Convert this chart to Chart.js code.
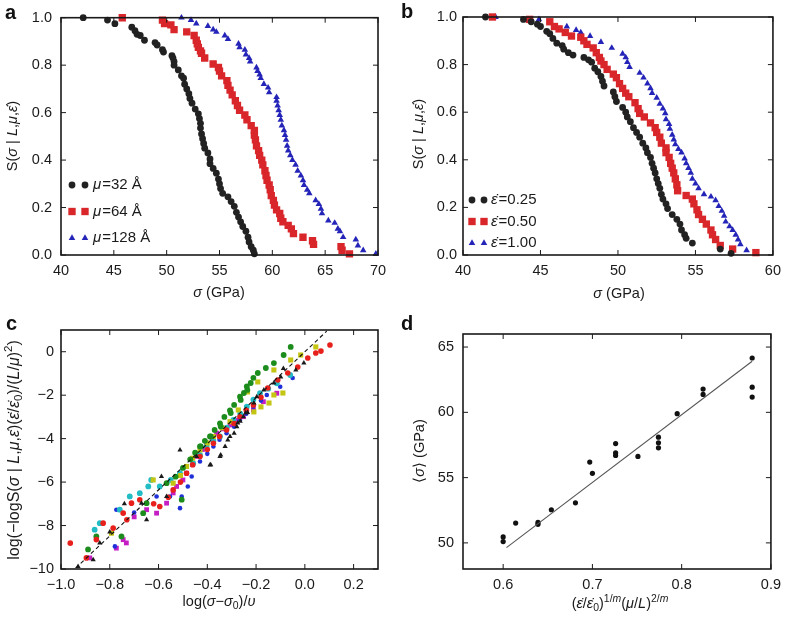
<!DOCTYPE html>
<html>
<head>
<meta charset="utf-8">
<script src="https://cdn.jsdelivr.net/npm/chart.js@4.4.1/dist/chart.umd.min.js"></script>
<style>
  body { margin: 0; background: #fff; }
  #fig { position: relative; width: 788px; height: 618px; }
  .p { position: absolute; }
  .lab { position: absolute; font: bold 20px "Liberation Sans", Arial, sans-serif; color: #111; line-height: 1; }
</style>
</head>
<body>
<div id="fig">
  <canvas class="p" id="ca" width="394" height="310" style="left:0;top:0"></canvas>
  <canvas class="p" id="cb" width="394" height="310" style="left:394px;top:0"></canvas>
  <canvas class="p" id="cc" width="394" height="308" style="left:0;top:310px"></canvas>
  <canvas class="p" id="cd" width="394" height="308" style="left:394px;top:310px"></canvas>
  <div class="lab" style="left:5px;top:2px">a</div>
  <div class="lab" style="left:401px;top:1px">b</div>
  <div class="lab" style="left:6px;top:313px">c</div>
  <div class="lab" style="left:401px;top:313px">d</div>
</div>
<script>
// ---- panel a: survival S vs sigma (GPa), three mu values
const aBlackX = [42.1,44.4,45.1,46.7,47.0,47.2,47.5,47.9,48.9,49.1,49.6,49.7,50.5,50.6,50.7,50.7,51.1,51.4,51.6,51.7,51.9,52.1,52.2,52.4,52.7,53.0,53.1,53.2,53.2,53.3,53.4,53.5,53.6,53.9,54.1,54.1,54.4,54.7,54.9,55.0,55.1,55.3,55.8,56.1,56.4,56.6,56.8,57.0,57.2,57.5,57.7,57.8,58.0,58.2,58.3];
const aBlackY = [1.0,0.99,0.975,0.96,0.945,0.93,0.925,0.905,0.895,0.885,0.865,0.855,0.84,0.83,0.815,0.80,0.78,0.755,0.745,0.72,0.70,0.68,0.66,0.64,0.615,0.595,0.575,0.555,0.535,0.51,0.49,0.47,0.45,0.43,0.405,0.385,0.365,0.345,0.32,0.30,0.28,0.26,0.245,0.225,0.205,0.18,0.16,0.14,0.12,0.10,0.075,0.055,0.035,0.02,0.005];
const aRedX = [45.8,49.6,49.8,50.4,50.7,51.9,52.6,52.8,52.9,53.0,53.2,53.3,53.6,54.4,54.9,55.0,55.2,55.7,55.8,56.0,56.2,56.5,56.7,56.9,57.4,57.6,58.0,58.3,58.3,58.4,58.5,58.7,58.8,59.0,59.1,59.3,59.4,59.5,59.7,59.8,59.9,60.1,60.2,60.4,60.7,60.8,61.0,61.5,61.8,62.0,62.9,63.8,63.9,66.5,66.6,67.3];
const aRedY = [1.0,0.99,0.975,0.97,0.95,0.94,0.925,0.905,0.89,0.875,0.86,0.85,0.83,0.805,0.79,0.775,0.755,0.735,0.715,0.695,0.675,0.65,0.63,0.61,0.59,0.57,0.545,0.525,0.505,0.485,0.46,0.44,0.42,0.40,0.38,0.355,0.335,0.315,0.295,0.275,0.25,0.23,0.21,0.19,0.175,0.155,0.14,0.125,0.11,0.09,0.075,0.06,0.045,0.035,0.02,0.005];
const aBlueX = [51.4,52.3,52.8,53.9,54.4,54.7,55.5,55.8,56.8,56.9,57.4,57.5,57.8,57.9,58.5,58.6,58.8,58.9,59.2,59.6,59.7,60.4,60.4,60.5,60.6,60.7,60.8,60.9,61.1,61.2,61.3,61.4,61.5,61.7,61.9,62.2,62.4,62.7,62.9,63.0,63.3,63.5,64.1,64.4,64.6,64.7,65.3,65.9,66.2,66.4,66.7,67.9,68.1,68.6,69.8];
const aBlueY = [1.0,0.99,0.975,0.965,0.95,0.94,0.925,0.91,0.89,0.875,0.865,0.845,0.83,0.815,0.79,0.775,0.76,0.745,0.72,0.705,0.685,0.665,0.65,0.63,0.61,0.59,0.57,0.545,0.525,0.505,0.485,0.46,0.44,0.42,0.40,0.38,0.355,0.335,0.315,0.295,0.275,0.26,0.23,0.215,0.195,0.175,0.145,0.135,0.11,0.10,0.075,0.065,0.04,0.02,0.005];
const aLabels = ['=32 Å', '=64 Å', '=128 Å'];

// ---- panel b: survival S vs sigma, three strain rates
const bBlackX = [41.45,43.9,44.4,44.8,45.0,45.4,45.6,45.8,46.05,46.4,46.5,46.8,47.1,47.8,48.1,48.3,48.5,48.7,48.9,49.0,49.1,49.7,49.8,49.9,50.3,50.5,50.6,50.8,51.0,51.2,51.4,51.6,51.8,51.9,52.1,52.2,52.3,52.4,52.5,52.6,52.7,52.8,52.9,53.1,53.2,53.5,53.8,54.0,54.1,54.3,54.4,54.8,56.6,57.3];
const bBlackY = [1.0,0.99,0.98,0.97,0.96,0.94,0.93,0.91,0.89,0.88,0.865,0.85,0.84,0.83,0.82,0.81,0.785,0.77,0.75,0.73,0.71,0.685,0.665,0.645,0.62,0.60,0.58,0.56,0.535,0.515,0.495,0.47,0.45,0.43,0.41,0.385,0.365,0.345,0.32,0.30,0.28,0.255,0.235,0.215,0.195,0.17,0.15,0.13,0.105,0.085,0.07,0.05,0.025,0.007];
const bRedX = [41.9,44.3,45.6,45.9,46.2,46.6,47.0,47.6,47.8,48.0,48.4,48.6,48.8,48.9,49.1,49.3,49.7,49.9,50.1,50.3,50.5,50.7,51.1,51.3,51.4,51.7,52.1,52.4,52.5,52.7,52.8,53.1,53.1,53.3,53.4,53.5,53.6,53.7,53.8,53.85,54.4,54.8,54.9,55.1,55.2,55.45,55.7,56.0,56.1,56.3,56.6,57.4,58.9];
const bRedY = [1.0,0.99,0.98,0.96,0.95,0.935,0.92,0.915,0.90,0.885,0.87,0.85,0.83,0.815,0.80,0.78,0.76,0.745,0.72,0.70,0.68,0.665,0.64,0.615,0.595,0.58,0.555,0.535,0.515,0.495,0.47,0.45,0.43,0.41,0.385,0.365,0.345,0.32,0.295,0.27,0.25,0.235,0.215,0.19,0.17,0.15,0.13,0.105,0.085,0.065,0.04,0.025,0.01];
const bBlueX = [42.1,44.9,46.7,47.3,47.6,48.2,48.9,49.6,50.3,50.5,50.6,50.75,51.4,51.65,51.9,52.1,52.2,52.5,52.7,52.9,53.05,53.1,53.3,53.35,53.5,53.6,53.7,53.9,54.1,54.3,54.4,54.55,54.7,54.8,55.0,55.2,55.55,56.0,56.3,56.5,56.7,56.85,56.95,57.2,57.4,57.6,57.75,57.9,58.3];
const bBlueY = [1.0,0.99,0.96,0.945,0.935,0.92,0.895,0.87,0.845,0.83,0.81,0.79,0.765,0.745,0.72,0.70,0.68,0.66,0.635,0.615,0.595,0.57,0.55,0.53,0.505,0.485,0.465,0.445,0.43,0.405,0.385,0.365,0.345,0.32,0.30,0.28,0.255,0.245,0.23,0.205,0.185,0.165,0.14,0.12,0.105,0.085,0.065,0.045,0.02];
const bLabels = ['=0.25', '=0.50', '=1.00'];

// ---- panel c: collapsed data, one series per run
const cBlackX = [-0.93,-0.868,-0.841,-0.80,-0.74,-0.67,-0.649,-0.588,-0.567,-0.512,-0.444,-0.389,-0.386,-0.348,-0.345,-0.327,-0.316,-0.307,-0.29,-0.279,-0.275,-0.265,-0.252,-0.243,-0.235,-0.209,-0.197,-0.168,-0.127,-0.099,-0.088,-0.037,-0.004];
const cBlackY = [-9.88,-9.57,-8.8,-8.3,-7.0,-6.97,-7.73,-5.74,-6.66,-4.52,-4.82,-5.21,-5.2,-4.82,-4.75,-4.36,-4.06,-3.9,-3.75,-3.45,-3.28,-3.2,-2.99,-2.82,-2.8,-2.36,-2.07,-1.76,-1.44,-1.16,-0.77,-0.84,-0.52];
const cRedX = [-0.962,-0.896,-0.855,-0.827,-0.786,-0.745,-0.73,-0.711,-0.677,-0.62,-0.595,-0.56,-0.54,-0.51,-0.485,-0.46,-0.43,-0.40,-0.375,-0.35,-0.321,-0.29,-0.266,-0.24,-0.211,-0.18,-0.152,-0.111,-0.07,-0.029,0.012,0.045,0.066,0.103];
const cRedY = [-8.81,-9.49,-8.65,-7.89,-8.12,-7.43,-7.73,-6.97,-6.81,-7.0,-7.12,-6.7,-6.36,-6.0,-5.59,-5.2,-4.82,-4.5,-4.21,-3.9,-3.6,-3.3,-2.99,-2.7,-2.45,-2.1,-1.67,-1.3,-0.98,-0.7,-0.29,-0.06,0.03,0.31];
const cGreenX = [-0.889,-0.855,-0.752,-0.663,-0.649,-0.567,-0.505,-0.53,-0.50,-0.47,-0.45,-0.43,-0.427,-0.41,-0.389,-0.386,-0.37,-0.348,-0.345,-0.33,-0.307,-0.304,-0.29,-0.266,-0.263,-0.25,-0.238,-0.236,-0.222,-0.211,-0.193,-0.16,-0.127,-0.087,-0.058];
const cGreenY = [-9.1,-8.5,-8.5,-7.43,-6.97,-6.05,-6.81,-5.75,-5.35,-4.95,-4.65,-4.36,-4.36,-4.1,-3.9,-3.9,-3.6,-3.3,-3.44,-3.0,-2.7,-2.82,-2.45,-2.07,-2.22,-1.9,-1.6,-1.76,-1.44,-1.2,-0.98,-0.75,-0.52,-0.15,0.22];
const cYellowX = [-0.793,-0.622,-0.54,-0.51,-0.485,-0.46,-0.43,-0.40,-0.375,-0.34,-0.307,-0.273,-0.235,-0.209,-0.193,-0.18,-0.147,-0.127,-0.09,-0.127,-0.058,-0.017,0.045];
const cYellowY = [-8.35,-5.9,-6.05,-5.7,-5.28,-4.9,-4.52,-4.2,-3.9,-3.5,-3.22,-2.68,-1.85,-2.77,-1.39,-2.54,-2.36,-0.84,-1.9,-1.99,-0.38,-0.15,0.22];
const cCyanX = [-0.862,-0.841,-0.759,-0.718,-0.677,-0.642,-0.63,-0.595,-0.55,-0.512,-0.458,-0.43,-0.403,-0.375,-0.348,-0.32,-0.293,-0.265,-0.238,-0.211,-0.184,-0.15,-0.115,-0.06];
const cCyanY = [-8.19,-7.89,-7.27,-6.66,-6.51,-6.2,-5.9,-6.2,-5.9,-5.59,-5.13,-4.75,-4.36,-4.1,-3.9,-3.5,-3.14,-2.85,-2.53,-2.2,-1.91,-1.7,-1.45,-1.07];
const cBlueX = [-0.779,-0.773,-0.70,-0.608,-0.553,-0.512,-0.505,-0.48,-0.464,-0.43,-0.40,-0.375,-0.35,-0.321,-0.29,-0.266,-0.24,-0.211,-0.18,-0.156,-0.101,-0.05];
const cBlueY = [-8.96,-7.27,-7.4,-6.66,-6.66,-7.2,-6.66,-6.2,-5.74,-5.05,-4.7,-4.36,-4.05,-3.75,-3.45,-3.14,-2.85,-2.53,-2.25,-1.99,-1.61,-1.21];
const cMagentaX = [-0.882,-0.773,-0.745,-0.732,-0.70,-0.649,-0.608,-0.567,-0.54,-0.526,-0.50,-0.485,-0.46,-0.444,-0.42,-0.403,-0.38,-0.362,-0.335,-0.307,-0.28,-0.252,-0.211,-0.17,-0.115];
const cMagentaY = [-9.49,-9.04,-8.65,-8.8,-7.6,-7.27,-7.43,-6.97,-6.5,-6.2,-5.9,-5.59,-5.2,-4.82,-4.5,-4.21,-4.0,-3.75,-3.55,-3.37,-3.15,-2.99,-2.68,-2.3,-1.91];
const cFitX = [-0.94, 0.09];
const cFitY = [-9.96, 0.95];

// ---- panel d: mean strength vs scaling variable
const dX = [0.6,0.6,0.614,0.639,0.639,0.654,0.681,0.697,0.700,0.726,0.726,0.726,0.751,0.774,0.774,0.774,0.795,0.824,0.824,0.879,0.879,0.879];
const dY = [50.46,50.1,51.52,51.57,51.42,52.54,53.07,56.19,55.33,56.90,57.61,56.70,56.62,58.10,57.67,57.28,59.90,61.78,61.37,64.16,61.93,61.17];
const dFitX = [0.6037, 0.879];
const dFitY = [49.64, 63.91];

const FONT = '"Liberation Sans", Arial, sans-serif';
const TICK = 14.5;
Chart.defaults.font.family = FONT;
Chart.defaults.color = '#1a1a1a';

const pts = (xs, ys) => xs.map((x, i) => ({x, y: ys[i]}));
const fmt = (v, d) => (Math.abs(v) < 1e-9 ? 0 : v).toFixed(d).replace('-', '\u2212');

function marks(label, xs, ys, color, style, r) {
  return { label, data: pts(xs, ys), backgroundColor: color, borderColor: color, borderWidth: 0,
           pointStyle: style, pointRadius: r, clip: 6 };
}
function fitLine(xs, ys, color, dash) {
  return { data: pts(xs, ys), showLine: true, borderColor: color, borderWidth: 1.1,
           borderDash: dash || [], pointRadius: 0, order: -1 };
}

function drawMark(ctx, style, x, y, r, color) {
  ctx.fillStyle = color;
  ctx.beginPath();
  if (style === 'rect') {
    const s = r * Math.SQRT1_2;
    ctx.rect(x - s, y - s, 2 * s, 2 * s);
  } else if (style === 'triangle') {
    ctx.moveTo(x, y - r);
    ctx.lineTo(x - r * 0.866, y + r / 2);
    ctx.lineTo(x + r * 0.866, y + r / 2);
    ctx.closePath();
  } else {
    ctx.arc(x, y, r, 0, Math.PI * 2);
  }
  ctx.fill();
}

// text with italic / super / subscript pieces
function drawRich(ctx, segs, cx, cy, rot, size) {
  ctx.save();
  ctx.translate(cx, cy);
  ctx.rotate(rot);
  ctx.fillStyle = '#1a1a1a';
  ctx.textBaseline = 'alphabetic';
  const fontOf = s => (s[1] && s[1].includes('i') ? 'italic ' : '') +
    (s[1] && /[\^_]/.test(s[1]) ? size * 0.72 : size) + 'px ' + FONT;
  let w = 0;
  const ws = segs.map(s => { ctx.font = fontOf(s); const m = ctx.measureText(s[0]).width; w += m; return m; });
  let x = -w / 2;
  segs.forEach((s, i) => {
    ctx.font = fontOf(s);
    const f = s[1] || '';
    const dy = f.includes('^') ? -size * 0.42 : f.includes('_') ? size * 0.22 : 0;
    ctx.fillText(s[0], x, size * 0.36 + dy);
    x += ws[i];
  });
  ctx.restore();
}

const frameTicks = {
  id: 'frameTicks',
  afterDraw(chart) {
    const {ctx, chartArea: a, scales} = chart;
    const len = 5;
    ctx.save();
    ctx.strokeStyle = '#1a1a1a';
    ctx.lineWidth = 1;
    ctx.beginPath();
    scales.x.ticks.forEach(t => {
      const px = scales.x.getPixelForValue(t.value);
      ctx.moveTo(px, a.bottom); ctx.lineTo(px, a.bottom - len);
      ctx.moveTo(px, a.top); ctx.lineTo(px, a.top + len);
    });
    scales.y.ticks.forEach(t => {
      const py = scales.y.getPixelForValue(t.value);
      ctx.moveTo(a.left, py); ctx.lineTo(a.left + len, py);
      ctx.moveTo(a.right, py); ctx.lineTo(a.right - len, py);
    });
    ctx.stroke();
    ctx.lineWidth = 1.6;
    ctx.strokeRect(a.left, a.top, a.right - a.left, a.bottom - a.top);
    ctx.restore();
  }
};

const insetLegend = {
  id: 'insetLegend',
  afterDraw(chart, args, o) {
    if (!o || !o.items) return;
    const ctx = chart.ctx;
    o.items.forEach((it, i) => {
      const ds = chart.data.datasets[i];
      const y = o.y + i * o.gap;
      drawMark(ctx, ds.pointStyle, o.x, y, ds.pointRadius, ds.backgroundColor);
      drawMark(ctx, ds.pointStyle, o.x + o.dx, y, ds.pointRadius, ds.backgroundColor);
      ctx.fillStyle = '#1a1a1a';
      ctx.textBaseline = 'middle';
      ctx.font = 'italic 15px ' + FONT;
      ctx.fillText(o.sym, o.tx, y);
      const w = ctx.measureText(o.sym).width;
      ctx.font = '15px ' + FONT;
      ctx.fillText(it, o.tx + w + 1, y);
    });
  }
};

const richTitles = {
  id: 'richTitles',
  afterDraw(chart, args, o) {
    (o.items || []).forEach(t => drawRich(chart.ctx, t.segs, t.x, t.y, t.rot || 0, t.size || 14.5));
  }
};

function axis(o, horiz) {
  return {
    type: 'linear', min: o.min, max: o.max,
    grid: { display: false, drawTicks: false },
    border: { display: false },
    ticks: { stepSize: o.step, includeBounds: false, padding: o.pad, autoSkip: false, maxRotation: 0,
             font: { size: TICK }, color: '#1a1a1a', callback: v => fmt(v, o.dec) },
    afterFit: s => { if (horiz) s.height = o.size; else s.width = o.size; }
  };
}

function panel(id, o) {
  return new Chart(document.getElementById(id), {
    type: 'scatter',
    data: { datasets: o.datasets },
    options: {
      responsive: false,
      animation: false,
      events: [],
      layout: { padding: { top: o.top, right: o.right, left: 0, bottom: 0 } },
      plugins: {
        legend: { display: false },
        tooltip: { enabled: false },
        insetLegend: o.legend || {},
        richTitles: { items: o.titles }
      },
      scales: { x: axis(o.x, true), y: axis(o.y, false) }
    },
    plugins: [frameTicks, insetLegend, richTitles]
  });
}

const BLK = '#222222', RED = '#d8262a', BLU = '#2424b8';
const EPS = 'ε\u0307';
const sTitle = [['S('], ['σ', 'i'], [' | '], ['L', 'i'], [','], ['μ', 'i'], [','], [EPS, 'i'], [')']];

panel('ca', {
  top: 17, right: 16,
  x: { min: 40, max: 70, step: 5, dec: 0, pad: 7, size: 55 },
  y: { min: 0, max: 1, step: 0.2, dec: 1, pad: 9, size: 61 },
  datasets: [
    marks('mu32', aBlackX, aBlackY, BLK, 'circle', 3.4),
    marks('mu64', aRedX, aRedY, RED, 'rect', 5.2),
    marks('mu128', aBlueX, aBlueY, BLU, 'triangle', 3.8)
  ],
  legend: { items: aLabels, sym: 'μ', x: 72, dx: 13, tx: 93, y: 185, gap: 26.5 },
  titles: [
    { segs: sTitle, x: 12, y: 136, rot: -Math.PI / 2 },
    { segs: [['σ', 'i'], [' (GPa)']], x: 219, y: 292 }
  ]
});

panel('cb', {
  top: 17, right: 13,
  x: { min: 40, max: 60, step: 5, dec: 0, pad: 7, size: 55 },
  y: { min: 0, max: 1, step: 0.2, dec: 1, pad: 6, size: 69 },
  datasets: [
    marks('e025', bBlackX, bBlackY, BLK, 'circle', 3.4),
    marks('e050', bRedX, bRedY, RED, 'rect', 5.2),
    marks('e100', bBlueX, bBlueY, BLU, 'triangle', 3.8)
  ],
  legend: { items: bLabels, sym: EPS, x: 78, dx: 12, tx: 97, y: 200, gap: 21.5 },
  titles: [
    { segs: sTitle, x: 24, y: 134, rot: -Math.PI / 2 },
    { segs: [['σ', 'i'], [' (GPa)']], x: 225, y: 293 }
  ]
});

panel('cc', {
  top: 20, right: 16,
  x: { min: -1, max: 0.3, step: 0.2, dec: 1, pad: 7, size: 49 },
  y: { min: -10, max: 1, step: 2, dec: 0, pad: 7, size: 61 },
  datasets: [
    fitLine(cFitX, cFitY, '#111', [4, 3]),
    marks('black', cBlackX, cBlackY, '#1a1a1a', 'triangle', 3.0),
    marks('red', cRedX, cRedY, '#e8201c', 'circle', 2.8),
    marks('green', cGreenX, cGreenY, '#1c8c1c', 'circle', 2.9),
    marks('yellow', cYellowX, cYellowY, '#c4c412', 'rect', 3.6),
    marks('cyan', cCyanX, cCyanY, '#22bcc4', 'circle', 2.9),
    marks('blue', cBlueX, cBlueY, '#2030d8', 'circle', 2.3),
    marks('magenta', cMagentaX, cMagentaY, '#c41ec4', 'rect', 3.4)
  ],
  titles: [
    { segs: [['log(−logS('], ['σ', 'i'], [' | '], ['L', 'i'], [','], ['μ', 'i'], [','], [EPS, 'i'], [')('], [EPS, 'i'], ['/'], [EPS, 'i'], ['0', '_'], [')/('], ['L', 'i'], ['/'], ['μ', 'i'], [')'], ['2', '^'], [')']],
      x: 13, y: 140, rot: -Math.PI / 2, size: 16 },
    { segs: [['log('], ['σ', 'i'], ['−'], ['σ', 'i'], ['0', '_'], [')/'], ['υ', 'i']], x: 219, y: 291 }
  ]
});

panel('cd', {
  top: 24, right: 10,
  x: { min: 0.555, max: 0.9, step: 0.1, dec: 1, pad: 7, size: 49 },
  y: { min: 48, max: 66, step: 5, dec: 0, pad: 9, size: 69 },
  datasets: [
    fitLine(dFitX, dFitY, '#555'),
    marks('mean', dX, dY, '#111', 'circle', 2.6)
  ],
  titles: [
    { segs: [['⟨'], ['σ', 'i'], ['⟩ (GPa)']], x: 25, y: 141, rot: -Math.PI / 2 },
    { segs: [['('], [EPS, 'i'], ['/'], [EPS, 'i'], ['0', '_'], [')'], ['1/', '^'], ['m', '^i'], ['('], ['μ', 'i'], ['/'], ['L', 'i'], [')'], ['2/', '^'], ['m', '^i']],
      x: 226, y: 293 }
  ]
});
</script>
</body>
</html>
